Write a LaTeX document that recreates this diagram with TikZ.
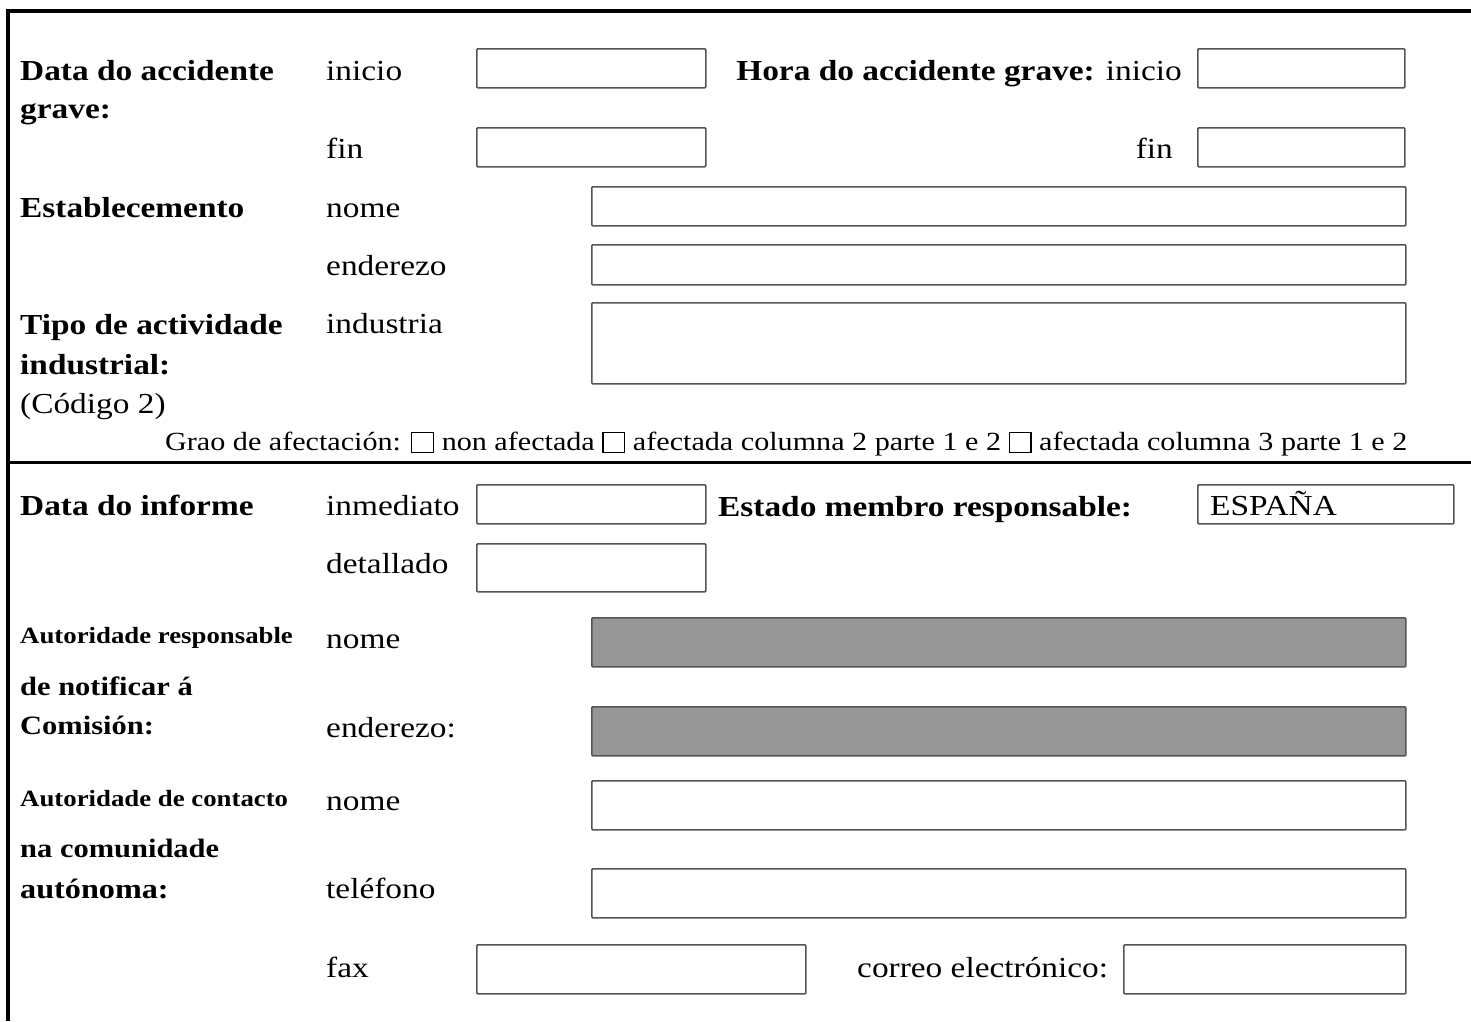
\documentclass[tikz,border=0pt]{standalone}
\usepackage{fontspec}
\setmainfont[FakeStretch=1.15]{Liberation Serif}
\newcommand\cbx{\raisebox{-2pt}{\fboxsep=0pt\fboxrule=1.3pt\fbox{\rule{0pt}{19pt}\hspace{20.5pt}}}}
\definecolor{boxline}{RGB}{85,85,85}
\definecolor{shade}{RGB}{150,150,150}
\tikzset{
  lbl/.style={anchor=base west, inner sep=0pt, font=\fontsize{29}{34}\selectfont},
  lble/.style={lbl, anchor=base east},
  hd/.style={lbl, font=\fontsize{29}{34}\selectfont\bfseries},
  sm/.style={lbl, font=\fontsize{23.3}{28}\selectfont\bfseries},
  smb/.style={lbl, font=\fontsize{26.5}{30}\selectfont\bfseries},
  grao/.style={lbl, font=\fontsize{26.2}{30}\selectfont},
  field/.style={draw=boxline, line width=1.6pt, rounded corners=1pt, anchor=north west, inner sep=0pt},
  shaded/.style={field, fill=shade},
  frameline/.style={line width=4pt},
}
\begin{document}
\begin{tikzpicture}[x=1pt, y=-1pt]
\useasboundingbox (0,0) rectangle (1471,1021);
% frame
\coordinate (tl) at (6,11);
\coordinate (tr) at (1471,11);
\coordinate (lt) at (8,9);
\coordinate (bl) at (8,1021);
\coordinate (ml) at (8,462);
\coordinate (mr) at (1471,462);
\draw[frameline] (tl) -- (tr);
\draw[frameline] (lt) -- (bl);
\draw[line width=3pt] (ml) -- (mr);

% ---- upper section
\node[hd] (dag1) at (20,80) {Data do accidente};
\node[hd] (dag2) at (20,118) {grave:};
\node[lbl] (ini1) at (326,80) {inicio};
\node[field, minimum width=229, minimum height=39] (bini1) at (476,48) {};
\node[lbl] (fin1) at (326,158) {fin};
\node[field, minimum width=229, minimum height=39] (bfin1) at (476,127) {};

\node[lble] (hora) at (1182,80) {\textbf{Hora do accidente grave:} inicio};
\node[field, minimum width=207, minimum height=39] (bini2) at (1197,48) {};
\node[lble] (fin2) at (1173,158) {fin};
\node[field, minimum width=207, minimum height=39] (bfin2) at (1197,127) {};

\node[hd] (est) at (20,217) {Establecemento};
\node[lbl] (nome1) at (326,217) {nome};
\node[field, minimum width=814, minimum height=39] (bnome1) at (591,186) {};
\node[lbl] (end1) at (326,275) {enderezo};
\node[field, minimum width=814, minimum height=40] (bend1) at (591,244) {};

\node[hd] (tip1) at (20,334) {Tipo de actividade};
\node[hd] (tip2) at (20,374) {industrial:};
\node[lbl] (cod) at (20,413) {(Código 2)};
\node[lbl] (ind) at (326,333) {industria};
\node[field, minimum width=814, minimum height=81] (bind) at (591,302) {};

\node[grao] (grao) at (165,450) {Grao de afectación: \cbx{} non afectada \cbx{} afectada columna 2 parte 1 e 2 \cbx{} afectada columna 3 parte 1 e 2};

% ---- lower section
\node[hd] (dinf) at (20,515) {Data do informe};
\node[lbl] (inm) at (326,515) {inmediato};
\node[field, minimum width=229, minimum height=39] (binm) at (476,484) {};
\node[hd] (estm) at (718,516) {Estado membro responsable:};
\node[field, minimum width=256, minimum height=39] (besp) at (1197,484) {};
\node[lbl] (esp) at (1210,515) {ESPAÑA};
\node[lbl] (det) at (326,573) {detallado};
\node[field, minimum width=229, minimum height=48] (bdet) at (476,543) {};

\node[sm] (aut1) at (20,643) {Autoridade responsable};
\node[smb] (aut2) at (20,695) {de notificar á};
\node[smb] (aut3) at (20,734) {Comisión:};
\node[lbl] (nome2) at (326,648) {nome};
\node[shaded, minimum width=814, minimum height=49] (bnome2) at (591,617) {};
\node[lbl] (end2) at (326,737) {enderezo:};
\node[shaded, minimum width=814, minimum height=49] (bend2) at (591,706) {};

\node[sm] (con1) at (20,806) {Autoridade de contacto};
\node[smb] (con2) at (20,857) {na comunidade};
\node[smb, font=\fontsize{28}{30}\selectfont\bfseries] (con3) at (20,898) {autónoma:};
\node[lbl] (nome3) at (326,810) {nome};
\node[field, minimum width=814, minimum height=49] (bnome3) at (591,780) {};
\node[lbl] (tel) at (326,898) {teléfono};
\node[field, minimum width=814, minimum height=49] (btel) at (591,868) {};

\node[lbl] (fax) at (326,977) {fax};
\node[field, minimum width=329, minimum height=49] (bfax) at (476,944) {};
\node[lbl] (cor) at (857,977) {correo electrónico:};
\node[field, minimum width=282, minimum height=49] (bcor) at (1123,944) {};
\end{tikzpicture}
\end{document}
